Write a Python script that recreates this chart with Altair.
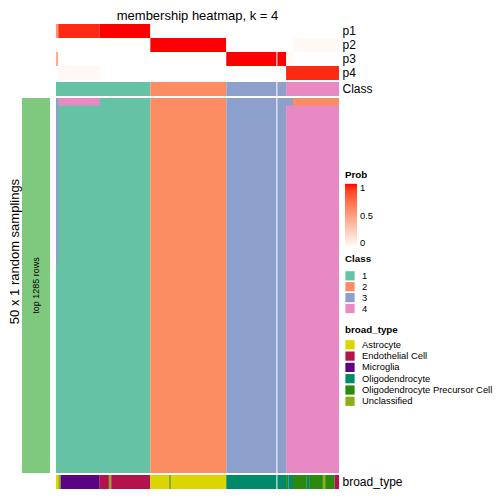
import altair as alt
import pandas as pd

TITLE = "membership heatmap, k = 4"
ROW_TITLE = "50 x 1 random samplings"
BAR_TEXT = "top 1285 rows"
N_SAMPLINGS = 50

# consensus classes (columns = samples, in plotted order)
class_labels = ["1", "2", "3", "4"]
class_colors = ["#66C2A5", "#FC8D62", "#8DA0CB", "#E78AC3"]
class_sizes = [41, 33, 26, 23]

# membership probabilities, as runs of (value, number of samples)
prob_rows = ["p1", "p2", "p3", "p4"]
p1_runs = [(0.56, 1), (0.95, 18), (1.0, 22), (0.0, 82)]
p2_runs = [(0.0, 41), (1.0, 33), (0.0, 29), (0.04, 20)]
p3_runs = [(0.44, 1), (0.0, 73), (1.0, 26), (0.04, 3), (0.0, 20)]
p4_runs = [(0.0, 1), (0.04, 18), (0.0, 81), (0.95, 23)]

# broad_type annotation, as runs of (type, number of samples)
broad_types = ["Astrocyte", "Endothelial Cell", "Microglia", "Oligodendrocyte",
               "Oligodendrocyte Precursor Cell", "Unclassified"]
broad_colors = ["#DDD500", "#B3124B", "#5C0384", "#008A6A", "#2B8A0D", "#8CB013"]
broad_runs = [
    ("Astrocyte", 1), ("Unclassified", 1), ("Microglia", 17), ("Endothelial Cell", 4),
    ("Unclassified", 1), ("Endothelial Cell", 17),
    ("Astrocyte", 8), ("Unclassified", 1), ("Astrocyte", 24),
    ("Oligodendrocyte", 26),
    ("Oligodendrocyte Precursor Cell", 1), ("Oligodendrocyte", 2),
    ("Oligodendrocyte Precursor Cell", 6), ("Oligodendrocyte", 1),
    ("Oligodendrocyte Precursor Cell", 6), ("Unclassified", 1),
    ("Oligodendrocyte Precursor Cell", 4), ("Endothelial Cell", 2),
]

# samplings whose class differs from the consensus:
# (first sampling, end sampling, first sample, end sample, class)
membership_exceptions = [
    (0, 22, 0, 1, "3"),
    (0, 1, 1, 19, "4"),
    (0, 1, 100, 103, "3"),
    (0, 1, 103, 123, "2"),
]
gap_after_sample = 96

FONT = "Liberation Sans"
N = sum(class_sizes)
W = 283
H_MAIN = 375

# ---------- tables ----------
prob_records = []
for name, runs in zip(prob_rows, [p1_runs, p2_runs, p3_runs, p4_runs]):
    pos = 0
    for v, n in runs:
        prob_records.append(dict(row=name, x0=pos, x1=pos + n, prob=v))
        pos += n
prob_df = pd.DataFrame(prob_records)

class_records = []
pos = 0
for lab, n in zip(class_labels, class_sizes):
    class_records.append(dict(row="Class", x0=pos, x1=pos + n, cls=lab, y0=0, y1=N_SAMPLINGS))
    pos += n
class_df = pd.DataFrame(class_records)

exc_df = pd.DataFrame([dict(y0=a, y1=b, x0=c, x1=d, cls=k)
                       for a, b, c, d, k in membership_exceptions])

broad_records = []
pos = 0
for t, n in broad_runs:
    broad_records.append(dict(row="broad_type", x0=pos, x1=pos + n, btype=t))
    pos += n
broad_df = pd.DataFrame(broad_records)

gap_df = pd.DataFrame({"x": [gap_after_sample]})


def xenc():
    return alt.X("x0:Q", scale=alt.Scale(domain=[0, N], nice=False, zero=False), axis=None)


def gap_rule():
    return alt.Chart(gap_df).mark_rule(color="white", strokeWidth=1).encode(
        x=alt.X("x:Q", scale=alt.Scale(domain=[0, N], nice=False, zero=False), axis=None))


right_axis = dict(orient="right", title=None, ticks=False, domain=False,
                  labelFontSize=12, labelPadding=3, labelColor="black", labelFont=FONT)
band = alt.Scale(paddingInner=0, paddingOuter=0)

legend_common = dict(orient="none", legendX=289, labelFontSize=9.4, titleFontSize=9.8,
                     titleFontWeight="bold", labelFont=FONT, titleFont=FONT,
                     titleColor="black", labelColor="black")

# ---------- probability rows ----------
prows = alt.layer(
    alt.Chart(prob_df).mark_rect().encode(
        x=xenc(), x2="x1:Q",
        y=alt.Y("row:N", sort=prob_rows, scale=band, axis=alt.Axis(**right_axis)),
        color=alt.Color("prob:Q",
                        scale=alt.Scale(domain=[0, 1], range=["#FFFFFF", "#FF0000"], interpolate="lab"),
                        legend=alt.Legend(title="Prob", legendY=146, direction="vertical",
                                          gradientLength=64, gradientThickness=12,
                                          values=[0, 0.5, 1], format=".1~f", titlePadding=4,
                                          labelOffset=3, gradientStrokeWidth=0,
                                          **legend_common)),
    ),
    gap_rule(),
).properties(width=W, height=56,
             title=alt.Title(TITLE, fontSize=13, fontWeight="normal", font=FONT, offset=0.5,
                             anchor="middle", color="black"))

cls_scale = alt.Scale(domain=class_labels, range=class_colors)

classrow = alt.layer(
    alt.Chart(class_df).mark_rect().encode(
        x=xenc(), x2="x1:Q",
        y=alt.Y("row:N", scale=band, axis=alt.Axis(**right_axis)),
        color=alt.Color("cls:N", scale=cls_scale,
                        legend=alt.Legend(title="Class", legendY=172, symbolType="square",
                                          symbolSize=85, symbolStrokeWidth=0, rowPadding=0.9,
                                          titlePadding=7, labelOffset=7, **legend_common)),
    ),
    gap_rule(),
).properties(width=W, height=14)

main_y = alt.Y("y0:Q", scale=alt.Scale(domain=[0, N_SAMPLINGS], reverse=True, nice=False, zero=False),
               axis=None)
main = alt.layer(
    alt.Chart(class_df).mark_rect().encode(
        x=xenc(), x2="x1:Q", y=main_y, y2="y1:Q",
        color=alt.Color("cls:N", scale=cls_scale, legend=None)),
    alt.Chart(exc_df).mark_rect().encode(
        x=xenc(), x2="x1:Q", y=main_y, y2="y1:Q",
        color=alt.Color("cls:N", scale=cls_scale, legend=None)),
    gap_rule(),
).properties(width=W, height=H_MAIN)

broad = alt.layer(
    alt.Chart(broad_df).mark_rect().encode(
        x=xenc(), x2="x1:Q",
        y=alt.Y("row:N", scale=band, axis=alt.Axis(**right_axis)),
        color=alt.Color("btype:N", scale=alt.Scale(domain=broad_types, range=broad_colors),
                        legend=alt.Legend(title="broad_type", legendY=-150, symbolType="square",
                                          symbolSize=85, symbolStrokeWidth=0, rowPadding=1.3,
                                          titlePadding=5, labelOffset=7, **legend_common)),
    ),
    gap_rule(),
).properties(width=W, height=14)

bar_axis = dict(title=ROW_TITLE, labels=False, ticks=False, domain=False,
                titleFontSize=13, titleFontWeight="normal", titleFont=FONT,
                titleColor="black", titlePadding=1, titleY=153)
bar_df = pd.DataFrame({"g": [BAR_TEXT]})
bar = alt.layer(
    alt.Chart(bar_df).mark_rect(color="#7FC97F").encode(
        x=alt.X("g:N", scale=band, axis=None),
        y=alt.Y("g:N", scale=band, axis=alt.Axis(**bar_axis)),
    ),
    alt.Chart(bar_df).mark_text(angle=270, fontSize=9, font=FONT, color="black").encode(
        x=alt.X("g:N", scale=band, axis=None),
        y=alt.Y("g:N", scale=band, axis=alt.Axis(**bar_axis)),
        text="g:N"),
).properties(width=28, height=H_MAIN)


def spacer(h):
    return alt.Chart(pd.DataFrame({"s": [0]})).mark_rect(opacity=0).encode(
        x=alt.X("s:N", axis=None), y=alt.Y("s:N", axis=None)).properties(width=28, height=h)


chart = alt.concat(
    spacer(56), prows,
    spacer(14), classrow,
    bar, main,
    spacer(14), broad,
    columns=2, spacing={"row": 2, "column": 6}, bounds="flush",
).resolve_scale(color="independent").properties(
    padding={"left": 0, "top": 2, "right": 0, "bottom": 0}
).configure(font=FONT).configure_view(strokeWidth=0)

chart.save("out.html", embed_options={"renderer": "svg", "actions": False})
